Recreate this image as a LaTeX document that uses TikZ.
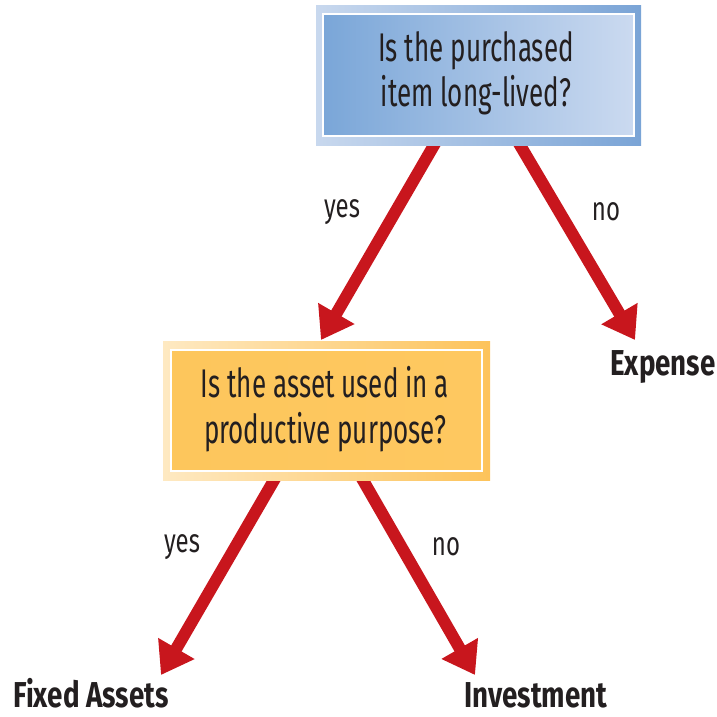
\documentclass[tikz,border=0pt]{standalone}
\usepackage{fontspec}
\setmainfont{Fira Sans}[FakeStretch=0.72,BoldFeatures={FakeStretch=0.77}]
\newfontfamily\qfont{Fira Sans}[FakeStretch=0.65]
\usetikzlibrary{arrows.meta}
\definecolor{arrowred}{HTML}{C8161D}
\definecolor{txt}{HTML}{231F20}
\tikzset{
  conn/.style={draw=arrowred, line width=9pt, -{Triangle[length=23pt,width=30pt]}},
  qtext/.style={font=\qfont\fontsize{30}{34}\selectfont, text=txt, align=center},
  ans/.style={font=\fontsize{25}{30}\selectfont, text=txt},
  res/.style={font=\fontsize{27}{30}\selectfont\bfseries, text=txt, anchor=base, text depth=0pt, inner sep=0pt},
}
\begin{document}
\begin{tikzpicture}[x=0.75pt,y=-0.75pt]
\useasboundingbox (0,0) rectangle (717,717);
% arrow anchor coordinates
\coordinate (a1s) at (437,140);
\coordinate (a1e) at (321,340);
\coordinate (a2s) at (517,140);
\coordinate (a2e) at (635,340);
\coordinate (a3s) at (277,475);
\coordinate (a3e) at (161,675);
\coordinate (a4s) at (360,475);
\coordinate (a4e) at (475,675);
\draw[conn] (a1s) -- (a1e);
\draw[conn] (a2s) -- (a2e);
\draw[conn] (a3s) -- (a3e);
\draw[conn] (a4s) -- (a4e);
% box 1
\shade[left color={rgb,255:red,200;green,216;blue,238}, right color={rgb,255:red,122;green,164;blue,214}] (316,6) rectangle (641,145);
\shade[left color={rgb,255:red,122;green,166;blue,216}, right color={rgb,255:red,203;green,218;blue,240}, draw=white, line width=1pt] (323,14) rectangle (634,136);
\node[qtext] (box1) at (476,73) {Is the purchased\\item long-lived?};
% box 2
\shade[left color={rgb,255:red,254;green,233;blue,194}, right color={rgb,255:red,253;green,195;blue,90}] (163,341) rectangle (490,480);
\shade[left color={rgb,255:red,253;green,198;blue,92}, right color={rgb,255:red,254;green,200;blue,96}, draw=white, line width=1pt] (171,350) rectangle (482,471);
\node[qtext] (box2) at (325,409) {Is the asset used in a\\productive purpose?};
% labels
\node[ans] (yes1) at (342,212) {yes};
\node[ans] (no1) at (606,212) {no};
\node[res] (expense) at (663,375) {Expense};
\node[ans] (yes2) at (182,547) {yes};
\node[ans] (no2) at (446,547) {no};
\node[res] (fixed) at (91,707) {Fixed Assets};
\node[res] (invest) at (536,707) {Investment};
\end{tikzpicture}
\end{document}
